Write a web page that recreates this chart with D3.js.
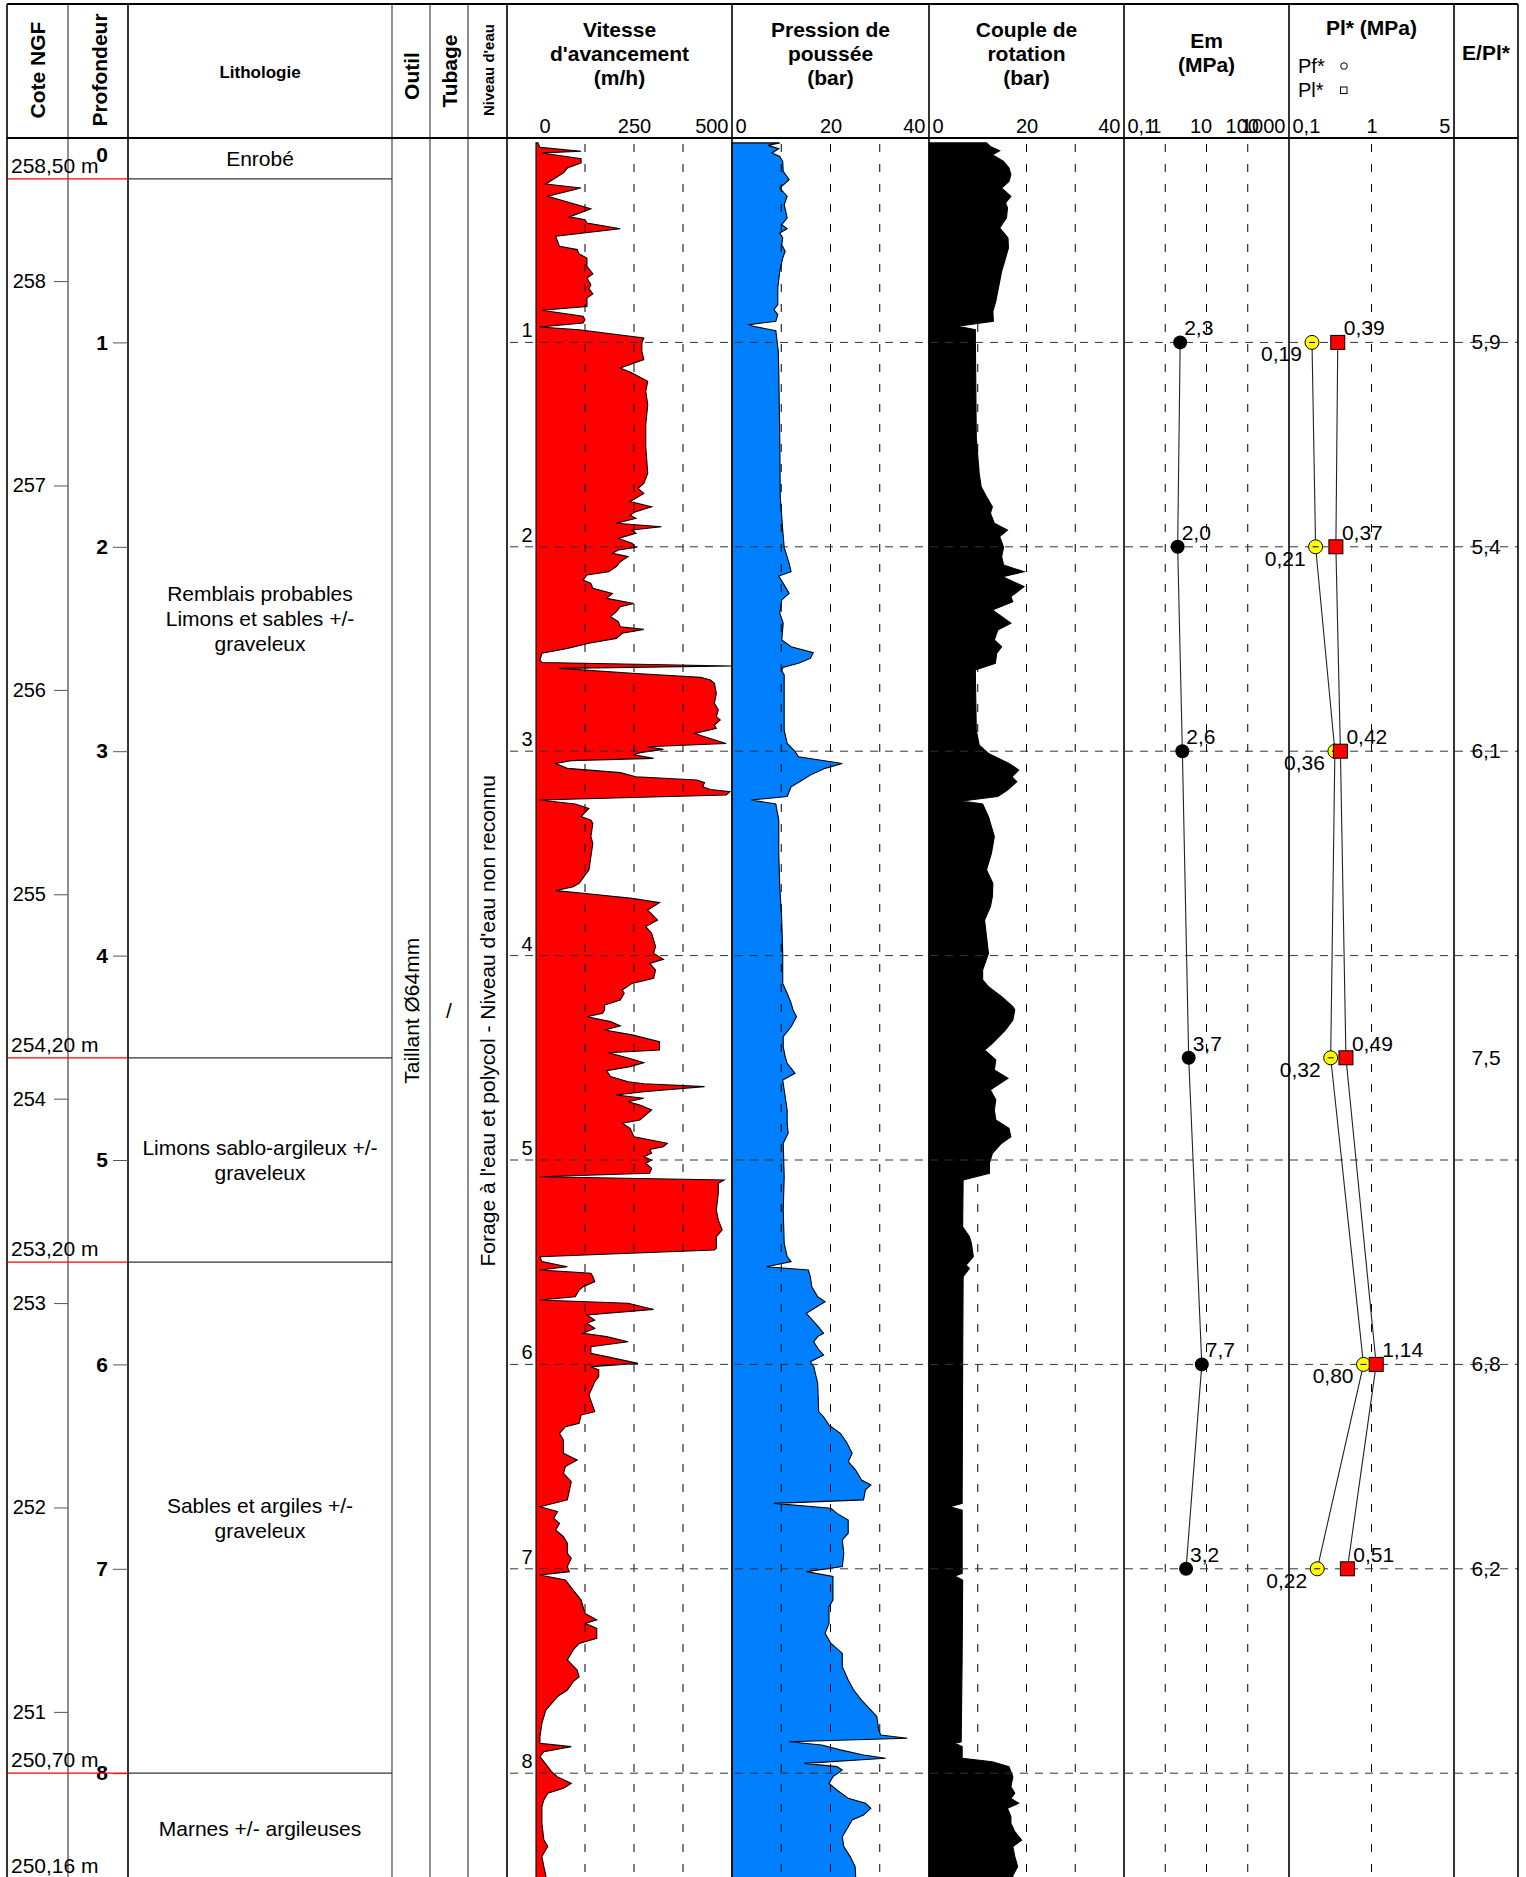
<!DOCTYPE html>
<html>
<head>
<meta charset="utf-8">
<script src="https://cdn.jsdelivr.net/npm/d3@7"></script>
<style>
body{margin:0;background:#fff;}
svg{display:block;font-family:"Liberation Sans",Arial,sans-serif;}
</style>
</head>
<body>
<div id="log"></div>
<script>
var groundLevel = 258.70;
var maxDepth = 8.54;

var layerTop = [0, 0.2, 4.5, 5.5, 8.0];
var layerBottom = [0.2, 4.5, 5.5, 8.0, 8.54];
var layerText = [
    ["Enrobé"],
    ["Remblais probables", "Limons et sables +/-", "graveleux"],
    ["Limons sablo-argileux +/-", "graveleux"],
    ["Sables et argiles +/-", "graveleux"],
    ["Marnes +/- argileuses"]
];

var outilText = "Taillant Ø64mm";
var tubageText = "/";
var niveauText = "Forage à l'eau et polycol - Niveau d'eau non reconnu";

// pressiometer tests
var pmtDepth = [1, 2, 3, 4.5, 6, 7];
var emValues = [2.3, 2.0, 2.6, 3.7, 7.7, 3.2];
var pfValues = [0.19, 0.21, 0.36, 0.32, 0.80, 0.22];
var plValues = [0.39, 0.37, 0.42, 0.49, 1.14, 0.51];
var ratioValues = [5.9, 5.4, 6.1, 7.5, 6.8, 6.2];

// drilling parameters [depth m, value]
var vitesse = [
[0.024,5],[0.046,10],[0.065,115],[0.073,15],[0.101,115],[0.122,115],[0.147,80],[0.171,70],[0.225,25],[0.245,115],[0.285,30],[0.346,140],[0.386,85],[0.400,125],[0.416,130],[0.444,215],[0.481,50],[0.530,60],[0.546,105],[0.568,110],[0.587,130],[0.628,130],[0.665,145],[0.685,130],[0.718,140],[0.737,135],[0.763,145],[0.783,130],[0.824,130],[0.843,15],[0.872,120],[0.889,125],[0.905,120],[0.925,10],[0.938,110],[0.978,275],[1.003,270],[1.044,270],[1.084,275],[1.125,215],[1.150,245],[1.190,285],[1.239,280],[1.305,285],[1.402,280],
[1.510,280],[1.641,285],[1.690,275],[1.714,260],[1.739,275],[1.779,240],[1.804,295],[1.828,255],[1.845,240],[1.861,255],[1.885,205],[1.902,320],[1.918,245],[1.934,255],[1.959,210],[1.983,245],[2.003,255],[2.016,210],[2.032,195],[2.048,235],[2.073,215],[2.097,205],[2.122,185],[2.138,130],[2.163,120],[2.179,140],[2.203,145],[2.228,195],[2.252,180],[2.277,250],[2.293,215],[2.317,205],[2.342,190],[2.366,210],[2.391,215],[2.404,275],[2.423,220],[2.448,205],[2.472,135],[2.497,80],[2.521,15],[2.554,10],[2.566,15],[2.583,500],[2.595,60],[2.619,245],[2.639,420],[2.652,445],[2.668,455],[2.717,460],[2.766,455],[2.798,465],[2.831,460],[2.847,470],[2.872,455],
[2.888,460],[2.913,405],[2.929,430],[2.962,485],[2.978,285],[2.991,325],[3.007,265],[3.018,250],[3.035,300],[3.046,90],[3.060,50],[3.084,80],[3.105,215],[3.125,255],[3.141,410],[3.154,430],[3.174,425],[3.187,445],[3.198,495],[3.214,485],[3.239,10],[3.258,100],[3.280,135],[3.320,115],[3.337,140],[3.353,145],[3.418,140],[3.451,145],[3.516,140],[3.581,135],[3.606,125],[3.646,110],[3.663,95],[3.682,50],[3.695,120],[3.720,245],[3.741,315],[3.777,285],[3.826,310],[3.858,280],[3.891,295],[3.956,305],[3.989,300],[4.018,325],[4.038,290],[4.071,305],[4.111,300],[4.136,245],[4.168,220],[4.184,225],[4.217,215],[4.242,175],
[4.266,175],[4.282,170],[4.299,130],[4.323,190],[4.344,215],[4.364,175],[4.388,245],[4.421,315],[4.462,315],[4.475,185],[4.503,240],[4.524,275],[4.543,240],[4.563,180],[4.592,190],[4.617,235],[4.627,275],[4.641,430],[4.666,275],[4.682,205],[4.698,275],[4.715,235],[4.731,265],[4.755,295],[4.804,265],[4.820,220],[4.845,240],[4.886,250],[4.918,335],[4.935,325],[4.948,290],[4.967,295],[4.984,275],[5.000,295],[5.016,280],[5.041,295],[5.065,290],[5.082,10],[5.098,480],[5.114,465],[5.163,465],[5.245,460],[5.293,465],[5.342,475],[5.375,460],[5.432,460],[5.440,455],[5.473,10],[5.497,15],[5.522,80],[5.538,10],[5.554,140],[5.570,145],[5.595,150],[5.620,120],[5.636,110],[5.669,100],[5.685,10],
[5.701,235],[5.731,300],[5.758,130],[5.783,150],[5.799,130],[5.824,150],[5.848,120],[5.864,180],[5.889,235],[5.913,140],[5.946,140],[5.962,180],[5.995,260],[6.011,140],[6.027,160],[6.060,160],[6.085,150],[6.150,135],[6.231,150],[6.248,115],[6.288,110],[6.305,75],[6.337,60],[6.370,70],[6.435,70],[6.468,105],[6.500,75],[6.533,70],[6.574,90],[6.663,80],[6.696,10],[6.720,55],[6.753,45],[6.778,60],[6.810,50],[6.843,70],[6.875,80],[6.924,80],[6.949,90],[6.989,80],[7.014,85],[7.030,10],[7.055,75],[7.104,95],
[7.153,115],[7.218,125],[7.250,155],[7.267,125],[7.291,155],[7.340,155],[7.365,110],[7.397,95],[7.446,80],[7.495,105],[7.528,110],[7.552,95],[7.593,80],[7.625,55],[7.658,40],[7.691,25],[7.756,15],[7.821,10],[7.854,10],[7.870,90],[7.895,20],[7.919,10],[7.968,30],[7.993,40],[8.018,55],[8.050,90],[8.074,70],[8.098,30],[8.131,20],[8.163,15],[8.245,15],[8.326,20],[8.359,30],[8.408,15],[8.457,20],[8.501,25],[8.54,25]
];

var pression = [
[0.024,9.7],[0.036,7.3],[0.052,9.5],[0.073,8.1],[0.090,9.7],[0.114,10.3],[0.163,10.4],[0.204,11.6],[0.245,9.7],[0.285,11.2],[0.326,10.6],[0.391,11.2],[0.424,10.1],[0.444,11.2],[0.465,9.7],[0.489,10.3],[0.522,10.1],[0.554,10.8],[0.587,10.3],[0.652,9.7],[0.734,9.3],[0.815,9.3],[0.840,8.5],[0.864,9.3],[0.897,8.9],[0.913,3.5],[0.921,4.3],[0.943,8.9],[1.044,9.4],[1.142,9.5],[1.468,9.7],
[1.755,9.8],[1.918,10.3],[2.003,10.6],[2.081,11.6],[2.122,12.0],[2.143,9.5],[2.179,10.4],[2.228,11.6],[2.260,10.1],[2.325,9.7],[2.374,10.4],[2.456,10.1],[2.489,12.0],[2.518,16.5],[2.546,15.9],[2.570,13.5],[2.590,10.3],[2.606,10.1],[2.627,10.6],[2.897,10.6],
[2.962,11.2],[3.002,12.8],[3.027,13.5],[3.060,22.4],[3.084,18.9],[3.117,15.9],[3.141,14.3],[3.174,12.0],[3.198,11.6],[3.222,11.2],[3.239,3.9],[3.258,8.9],[3.337,9.5],[3.500,9.5],[3.663,9.7],[3.826,10.1],[3.989,10.3],[4.136,10.3],[4.184,11.2],[4.233,12.0],
[4.266,12.4],[4.299,13.1],[4.348,12.0],[4.397,10.4],[4.446,10.4],[4.494,10.8],[4.527,11.2],[4.576,12.8],[4.609,10.3],[4.755,11.2],[4.821,11.2],[4.869,11.4],[4.918,10.4],[5.082,10.6],[5.245,10.4],[5.408,10.6],[5.473,11.2],[5.497,12.0],[5.522,7.0],[5.538,15.5],[5.570,15.9],[5.620,16.2],[5.669,17.4],[5.693,18.9],
[5.709,17.8],[5.750,15.1],[5.791,16.6],[5.824,17.8],[5.848,18.6],[5.864,17.4],[5.889,16.6],[5.921,17.4],[5.954,18.6],[5.987,15.9],[6.011,16.6],[6.093,17.4],[6.231,17.6],[6.256,18.6],[6.297,19.7],[6.337,22.0],[6.378,23.2],[6.435,24.4],[6.476,23.6],[6.517,25.1],[6.566,26.3],[6.590,28.2],[6.614,27.1],[6.663,26.7],[6.680,8.5],[6.704,20.1],[6.729,21.3],[6.761,23.6],[6.826,23.6],[6.859,22.4],[6.924,22.7],[6.989,22.4],[7.014,15.1],[7.038,20.5],[7.153,20.5],
[7.185,19.7],[7.267,19.7],[7.316,18.9],[7.365,20.1],[7.414,22.4],[7.479,22.4],[7.544,23.6],[7.593,24.7],[7.642,26.3],[7.691,28.2],[7.723,29.4],[7.789,29.8],[7.813,30.2],[7.829,35.6],[7.846,11.6],[7.862,18.2],[7.886,22.0],[7.911,26.7],[7.927,31.2],[7.952,14.7],[7.968,21.3],[7.984,22.4],[8.017,20.5],[8.050,19.7],[8.082,21.3],[8.123,23.6],[8.147,27.1],[8.172,28.2],[8.205,26.7],[8.229,24.4],[8.262,23.6],[8.311,22.4],[8.359,22.7],[8.408,24.0],[8.457,25.0],[8.501,25.1],[8.54,25.1]
];

var couple = [
[0.024,11.8],[0.041,12.6],[0.062,14.5],[0.082,13.0],[0.114,15.3],[0.147,16.4],[0.179,16.8],[0.212,16.4],[0.245,14.9],[0.285,16.8],[0.318,15.7],[0.342,16.1],[0.391,15.9],[0.440,14.5],[0.489,16.2],[0.538,16.3],[0.587,15.7],[0.652,14.9],[0.701,14.5],[0.750,14.1],[0.799,13.7],[0.848,13.1],[0.897,13.2],[0.905,10.7],[0.921,6.0],[0.938,9.5],[1.468,9.7],
[1.526,9.9],[1.641,10.3],[1.706,10.7],[1.755,11.8],[1.804,13.0],[1.836,12.6],[1.885,13.4],[1.918,16.1],[1.950,14.5],[2.003,15.3],[2.048,14.9],[2.089,15.3],[2.122,19.5],[2.146,15.1],[2.195,19.5],[2.244,16.8],[2.269,17.2],[2.309,13.0],[2.374,16.8],[2.407,14.1],[2.456,13.4],[2.489,14.9],[2.521,13.9],[2.570,13.6],[2.603,9.5],[2.897,9.7],
[2.970,10.3],[3.011,12.2],[3.060,16.4],[3.092,18.4],[3.125,17.0],[3.149,18.0],[3.190,16.1],[3.222,14.1],[3.244,6.8],[3.258,11.0],[3.320,12.2],[3.418,13.4],[3.500,12.8],[3.581,11.8],[3.646,13.1],[3.712,13.0],[3.760,12.6],[3.826,11.4],[3.989,12.2],[4.071,11.0],[4.119,11.0],[4.152,12.2],[4.201,14.9],[4.250,17.2],
[4.266,17.6],[4.315,17.2],[4.364,15.7],[4.429,13.0],[4.462,11.4],[4.511,13.7],[4.560,13.4],[4.600,16.2],[4.657,12.6],[4.706,13.7],[4.755,13.4],[4.804,13.7],[4.845,16.4],[4.886,16.8],[4.918,14.9],[4.967,13.0],[5.016,12.4],[5.065,12.4],[5.098,7.0],[5.327,6.9],[5.375,8.3],[5.408,8.7],[5.473,9.1],[5.514,7.6],[5.530,8.3],[5.571,7.0],
[6.000,6.9],[6.680,6.8],[6.696,4.3],[6.713,6.8],[7.022,6.8],[7.035,5.3],[7.055,6.9],[7.430,6.8],[7.846,6.6],[7.854,5.3],[7.870,6.8],[7.927,6.8],[7.944,13.0],[7.968,16.4],[8.017,17.2],[8.066,16.8],[8.098,17.6],[8.123,16.8],[8.147,18.4],[8.172,16.1],[8.212,16.8],[8.245,16.8],[8.286,17.6],[8.327,19.0],[8.359,17.2],[8.408,17.6],[8.457,18.2],[8.501,17.2],[8.54,17.2]
];

// axis labels
var vitTicks = [0, 250, 500];
var presTicks = [0, 20, 40];
var coupleTicks = [0, 20, 40];
var emTicks = [0.1, 1, 10, 100, 1000];
var emTickLabels = ["0,1", "1", "10", "100", "1000"];
var plTicks = [0.1, 1, 5];
var plTickLabels = ["0,1", "1", "5"];
var coteTicks = [251, 252, 253, 254, 255, 256, 257, 258];
var depthTicks = [0, 1, 2, 3, 4, 5, 6, 7, 8];

// ---- layout ----
var W = 1526, H = 1877;
var topY = 4, headY = 138, pxPerMetre = 204.4;
var colX = [7, 68, 128, 392, 430, 468, 507, 732, 929, 1124, 1289, 1454, 1518];
var FONT = '"Liberation Sans", Arial, sans-serif';

var svg = d3.select("#log").append("svg").attr("width", W).attr("height", H);
svg.append("rect").attr("width", W).attr("height", H).attr("fill", "#fff");

var y = d3.scaleLinear().domain([0, maxDepth]).range([headY, headY + maxDepth*pxPerMetre]);
var yCote = d3.scaleLinear().domain([groundLevel, groundLevel - maxDepth]).range(y.range());
var xVit = d3.scaleLinear().domain([0, 500]).range([536, 732]);
var xPres = d3.scaleLinear().domain([0, 40]).range([732, 929]);
var xCouple = d3.scaleLinear().domain([0, 40]).range([929, 1124]);
var xEm = d3.scaleLog().domain([0.1, 1000]).range([1124, 1289]);
var xPl = d3.scaleLog().domain([0.1, 10]).range([1289, 1454]);

function comma(f){
    return function(v){ return d3.format(f)(v).replace(".", ","); };
}
var fmt1 = comma(".1f"), fmt2 = comma(".2f");

svg.append("clipPath").attr("id", "plotClip")
    .append("rect").attr("x", 0).attr("y", headY).attr("width", W).attr("height", H - headY);

// ---- drilling profiles ----
function drawProfile(data, x, fill){
    var area = d3.area()
        .y(function(d){ return y(d[0]); })
        .x0(x(0))
        .x1(function(d){ return x(d[1]); });
    svg.append("path").datum(data)
        .attr("clip-path", "url(#plotClip)")
        .attr("d", area)
        .attr("fill", fill)
        .attr("stroke", "#000")
        .attr("stroke-width", 1.1)
        .attr("stroke-linejoin", "miter");
}
drawProfile(vitesse, xVit, "#ff0000");
drawProfile(pression, xPres, "#0080ff");
drawProfile(couple, xCouple, "#000");

// ---- grid ----
function vGrid(x, values){
    values.forEach(function(v){
        svg.append("line")
            .attr("x1", x(v)).attr("x2", x(v))
            .attr("y1", headY + 6).attr("y2", H)
            .attr("stroke", "#000").attr("stroke-width", 1)
            .attr("stroke-dasharray", "8,12");
    });
}
vGrid(xVit, [125, 250, 375]);
vGrid(xPres, [10, 20, 30]);
vGrid(xCouple, [10, 20, 30]);
vGrid(xEm, [1, 10, 100]);
vGrid(xPl, [1]);

depthTicks.slice(1).forEach(function(d){
    svg.append("line")
        .attr("x1", 510).attr("x2", colX[12])
        .attr("y1", y(d)).attr("y2", y(d))
        .attr("stroke", "#333").attr("stroke-width", 1)
        .attr("stroke-dasharray", "8,7");
    svg.append("text")
        .attr("x", 527).attr("y", y(d) - 5)
        .attr("text-anchor", "middle")
        .attr("font-size", 20).attr("font-family", FONT)
        .text(d);
});

// ---- column frame ----
colX.forEach(function(x, i){
    svg.append("line")
        .attr("x1", x).attr("x2", x).attr("y1", topY).attr("y2", H)
        .attr("stroke", (i == 1 || i >= 3 && i <= 5) ? "#444" : "#000")
        .attr("stroke-width", (i == 1 || i >= 3 && i <= 5) ? 1.2 : 1.6);
});
[topY, headY].forEach(function(yy){
    svg.append("line")
        .attr("x1", colX[0]).attr("x2", colX[12]).attr("y1", yy).attr("y2", yy)
        .attr("stroke", "#000").attr("stroke-width", 2);
});

// ---- header titles ----
function hText(x, yy, str, size, bold, anchor){
    return svg.append("text")
        .attr("x", x).attr("y", yy)
        .attr("text-anchor", anchor || "middle")
        .attr("font-size", size).attr("font-family", FONT)
        .attr("font-weight", bold ? "bold" : "normal")
        .text(str);
}
function vText(x, yy, str, size, bold){
    return svg.append("text")
        .attr("transform", "translate(" + x + "," + yy + ") rotate(-90)")
        .attr("text-anchor", "middle")
        .attr("dominant-baseline", "central")
        .attr("font-size", size).attr("font-family", FONT)
        .attr("font-weight", bold ? "bold" : "normal")
        .text(str);
}
vText(37, 70, "Cote NGF", 21, true);
vText(99, 70, "Profondeur", 21, true);
hText(260, 78, "Lithologie", 17, true);
vText(411, 76, "Outil", 21, true);
vText(449, 71, "Tubage", 21, true);
vText(488, 70, "Niveau d'eau", 15, true);

function titleBlock(x, lines, y0){
    lines.forEach(function(l, i){ hText(x, y0 + i*24, l, 21, true); });
}
titleBlock((colX[6] + colX[7])/2, ["Vitesse", "d'avancement", "(m/h)"], 37);
titleBlock((colX[7] + colX[8])/2, ["Pression de", "poussée", "(bar)"], 37);
titleBlock((colX[8] + colX[9])/2, ["Couple de", "rotation", "(bar)"], 37);
titleBlock((colX[9] + colX[10])/2, ["Em", "(MPa)"], 48);
titleBlock((colX[10] + colX[11])/2, ["Pl* (MPa)"], 35);
titleBlock((colX[11] + colX[12])/2, ["E/Pl*"], 60);

// legend inside Pl* header
hText(1298, 73, "Pf*", 20, false, "start");
hText(1298, 97, "Pl*", 20, false, "start");
svg.append("circle").attr("cx", 1344).attr("cy", 66).attr("r", 3.3)
    .attr("fill", "#fff").attr("stroke", "#000").attr("stroke-width", 1);
svg.append("rect").attr("x", 1340.5).attr("y", 87).attr("width", 6.5).attr("height", 6.5)
    .attr("fill", "#fff").attr("stroke", "#000").attr("stroke-width", 1);

// ---- scale labels under titles ----
function topAxis(scale, values, labels, shift){
    var g = svg.append("g")
        .attr("transform", "translate(0," + (headY - 5) + ")")
        .call(d3.axisTop(scale).tickValues(values).tickSize(0).tickPadding(0)
            .tickFormat(function(d, i){ return labels[i]; }));
    g.select(".domain").remove();
    g.attr("font-size", 20).attr("font-family", FONT);
    var r = scale.range();
    g.selectAll("text").attr("fill", "#000").attr("dy", 0)
        .each(function(d, i){
            var t = d3.select(this);
            if(i == 0){
                t.attr("text-anchor", "start").attr("x", r[0] + 3 - scale(d));
            } else if(i == values.length - 1){
                t.attr("text-anchor", "end").attr("x", r[1] - 4 - scale(d));
            } else if(shift){
                t.attr("x", shift[i]);
            }
        });
}
topAxis(d3.scaleLinear().domain([0, 500]).range([colX[6] + 29, colX[7]]), vitTicks, ["0", "250", "500"]);
topAxis(xPres, presTicks, ["0", "20", "40"]);
topAxis(xCouple, coupleTicks, ["0", "20", "40"]);
topAxis(xEm, emTicks, emTickLabels, [0, -10, -6, -6, 0]);
topAxis(xPl, plTicks, plTickLabels);

// ---- cote / depth axes ----
var coteAxis = svg.append("g")
    .attr("transform", "translate(" + colX[1] + ",0)")
    .call(d3.axisLeft(yCote).tickValues(coteTicks).tickSize(14).tickPadding(8)
        .tickFormat(d3.format("d")));
coteAxis.select(".domain").remove();
coteAxis.attr("font-size", 20).attr("font-family", FONT);
coteAxis.selectAll("line").attr("stroke", "#555");
coteAxis.selectAll("text").attr("fill", "#000");

var depthAxis = svg.append("g")
    .attr("transform", "translate(" + colX[2] + ",0)")
    .call(d3.axisLeft(y).tickValues(depthTicks).tickSize(15).tickPadding(5));
depthAxis.select(".domain").remove();
depthAxis.attr("font-size", 21).attr("font-family", FONT).attr("font-weight", "bold");
depthAxis.selectAll("line").attr("stroke", "#555");
depthAxis.selectAll("text").attr("fill", "#000");
depthAxis.selectAll(".tick").filter(function(d){ return d == 0; })
    .each(function(){
        d3.select(this).select("line").remove();
        d3.select(this).select("text").attr("dy", "1.12em");
    });

// ---- lithology ----
layerTop.forEach(function(t, i){
    var b = layerBottom[i];
    svg.append("line")
        .attr("x1", colX[2]).attr("x2", colX[3]).attr("y1", y(b)).attr("y2", y(b))
        .attr("stroke", "#333").attr("stroke-width", 1.2);
    svg.append("line")
        .attr("x1", colX[0]).attr("x2", colX[2]).attr("y1", y(b)).attr("y2", y(b))
        .attr("stroke", "#ff0000").attr("stroke-width", 1.2);
    hText(11, Math.min(y(b) - 6, H - 4), fmt2(groundLevel - b) + " m", 21, false, "start");
    var lines = layerText[i];
    var yc = y((t + b)/2);
    lines.forEach(function(l, j){
        hText((colX[2] + colX[3])/2, yc + (j - (lines.length - 1)/2)*25, l, 21, false)
            .attr("dominant-baseline", "central");
    });
});

var midY = y(maxDepth/2);
vText((colX[3] + colX[4])/2, midY, outilText, 21, false);
hText((colX[4] + colX[5])/2, midY + 7, tubageText, 21, false);
vText((colX[5] + colX[6])/2, midY + 10, niveauText, 21, false);

// ---- pressiometer results ----
var pmt = pmtDepth.map(function(d, i){
    return {depth: d, em: emValues[i], pf: pfValues[i], pl: plValues[i], ratio: ratioValues[i]};
});

function drawLine(x, key){
    svg.append("path").datum(pmt)
        .attr("d", d3.line().x(function(d){ return x(d[key]); }).y(function(d){ return y(d.depth); }))
        .attr("fill", "none").attr("stroke", "#222").attr("stroke-width", 1.1);
}
drawLine(xEm, "em");
drawLine(xPl, "pf");
drawLine(xPl, "pl");

pmt.forEach(function(d){
    var yy = y(d.depth);
    // Em
    svg.append("circle").attr("cx", xEm(d.em)).attr("cy", yy).attr("r", 7).attr("fill", "#000");
    hText(xEm(d.em) + 4, yy - 7, fmt1(d.em), 21, false, "start");
    // Pf
    svg.append("circle").attr("cx", xPl(d.pf)).attr("cy", yy).attr("r", 7)
        .attr("fill", "#ffff00").attr("stroke", "#000").attr("stroke-width", 1);
    svg.append("line").attr("x1", xPl(d.pf) - 3).attr("x2", xPl(d.pf) + 3)
        .attr("y1", yy).attr("y2", yy).attr("stroke", "#000").attr("stroke-width", 1);
    hText(xPl(d.pf) - 10, yy + 19, fmt2(d.pf), 21, false, "end");
    // Pl
    svg.append("rect").attr("x", xPl(d.pl) - 7).attr("y", yy - 7).attr("width", 14).attr("height", 14)
        .attr("fill", "#ff0000").attr("stroke", "#000").attr("stroke-width", 1);
    hText(xPl(d.pl) + 6, yy - 7, fmt2(d.pl), 21, false, "start");
    // E/Pl
    hText((colX[11] + colX[12])/2, yy + 7, fmt1(d.ratio), 21, false);
});
</script>
</body>
</html>
